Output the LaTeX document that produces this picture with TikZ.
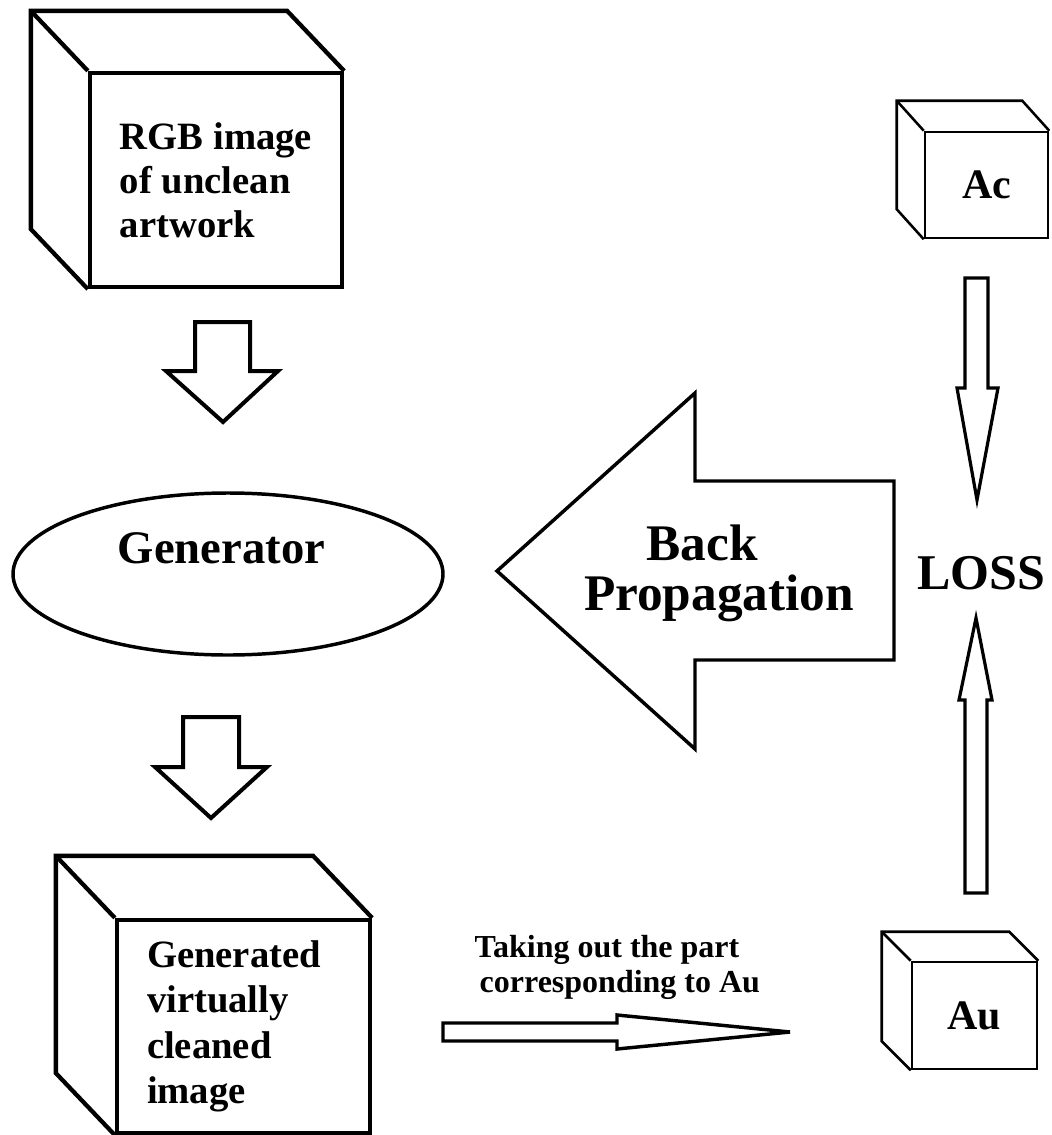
\documentclass[tikz,border=0pt]{standalone}
\usepackage{fontspec}
\setmainfont{Liberation Serif}
\usetikzlibrary{calc,shapes.geometric}
\newcommand{\cubeside}[4][]{\draw[#1] (#2.south west) -- ++(#3,#4) -- ($(#2.north west)+(#3,#4)$) -- ($(#2.north east)+(#3,#4)$) -- (#2.north east); \draw[#1] (#2.north west) -- ++(#3,#4);}

\begin{document}
\begin{tikzpicture}[x=0.75pt,y=-0.75pt,
  bigbox/.style={draw,line width=3.2pt,inner sep=0pt,align=left,font=\fontsize{29}{33}\selectfont\bfseries},
  smallbox/.style={draw,line width=1.9pt,inner sep=0pt,font=\fontsize{31.5}{36}\selectfont\bfseries},
  blockarrow/.style={draw,line width=3pt,fill=white}]
\useasboundingbox (0,0) rectangle (1052,1135);
% input and output images
\node[bigbox,minimum width=189pt,minimum height=160.5pt] (rgb) at (216,180) {RGB image\\of unclean\\artwork};
\cubeside[line width=3.2pt]{rgb}{-57}{-60}
\node[bigbox,inner xsep=22.5pt,text width=144.75pt,minimum height=159.75pt,font=\fontsize{29}{34}\selectfont\bfseries] (virt) at (243.5,1026.5) {Generated\\virtually\\cleaned\\image};
\cubeside[line width=3.2pt]{virt}{-59}{-62}
% generator
\node[draw,ellipse,line width=2.6pt,minimum width=322.5pt,minimum height=121.5pt,inner sep=0pt] (gen) at (228,574) {};
\node[anchor=base,font=\fontsize{35}{40}\selectfont\bfseries] (gentext) at (221.5,563) {Generator};
\draw[blockarrow] (195,322)--(250,322)--(250,371)--(278,371)--(223,422)--(166,371)--(195,371)--cycle;
\draw[blockarrow] (183,717)--(239,717)--(239,767)--(267,767)--(211,818)--(155,767)--(183,767)--cycle;
% ground truth patches
\node[smallbox,minimum width=92.25pt,minimum height=79.5pt] (ac) at (986.5,185) {Ac};
\cubeside[line width=1.9pt]{ac}{-27}{-30}
\node[smallbox,minimum width=93.75pt,minimum height=80.25pt] (au) at (974.5,1015.5) {Au};
\cubeside[line width=1.9pt]{au}{-29}{-29}
\node[font=\fontsize{37.5}{40}\selectfont\bfseries] (loss) at (981,573) {LOSS};
\draw[blockarrow,line width=2.4pt] (965,278)--(988,278)--(988,388)--(998,388)--(977,500)--(957,388)--(965,388)--cycle;
\draw[blockarrow,line width=2.4pt] (965,893)--(987,893)--(987,700)--(992,700)--(976,618)--(959,700)--(965,700)--cycle;
% back propagation
\draw[blockarrow,line width=2.6pt] (894,481)--(695,481)--(695,393)--(497,571)--(695,749)--(695,660)--(894,660)--cycle;
\node[anchor=base,font=\fontsize{38.5}{44}\selectfont\bfseries] (bp1) at (702,560) {Back};
\node[anchor=base,font=\fontsize{38.5}{44}\selectfont\bfseries] (bp2) at (719,610) {Propagation};
% crop to Au
\node[anchor=base west,font=\fontsize{24}{28}\selectfont\bfseries] (take1) at (470,957) {Taking out the part};
\node[anchor=base west,font=\fontsize{24}{28}\selectfont\bfseries] (take2) at (475,992) {corresponding to Au};
\draw[blockarrow,line width=2.6pt] (443,1023)--(617,1023)--(617,1015)--(790,1032)--(617,1049)--(617,1041)--(443,1041)--cycle;
\end{tikzpicture}
\end{document}
